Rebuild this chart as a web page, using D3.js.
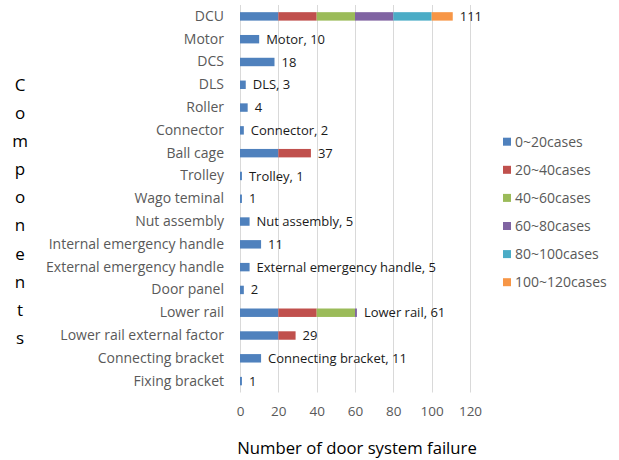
<!DOCTYPE html>
<html><head><meta charset="utf-8">
<script src="https://cdn.jsdelivr.net/npm/d3@7"></script>
<style>body{margin:0;background:#fff}svg{display:block}</style>
</head><body>
<script>
const categories = ["DCU","Motor","DCS","DLS","Roller","Connector","Ball cage","Trolley","Wago teminal","Nut assembly","Internal emergency handle","External emergency handle","Door panel","Lower rail","Lower rail external factor","Connecting bracket","Fixing bracket"];
const totals = [111,10,18,3,4,2,37,1,1,5,11,5,2,61,29,11,1];
const showName = [false,true,false,true,false,true,false,true,false,true,false,true,false,true,false,true,false];
const seriesNames = ["0~20cases","20~40cases","40~60cases","60~80cases","80~100cases","100~120cases"];
const s0 = [20,10,18,3,4,2,20,1,1,5,11,5,2,20,20,11,1];
const s1 = [20,0,0,0,0,0,17,0,0,0,0,0,0,20,9,0,0];
const s2 = [20,0,0,0,0,0,0,0,0,0,0,0,0,20,0,0,0];
const s3 = [20,0,0,0,0,0,0,0,0,0,0,0,0,1,0,0,0];
const s4 = [20,0,0,0,0,0,0,0,0,0,0,0,0,0,0,0,0];
const s5 = [11,0,0,0,0,0,0,0,0,0,0,0,0,0,0,0,0];
const xTicks = [0,20,40,60,80,100,120];
const colors = ["#4F81BD","#C0504D","#9BBB59","#8064A2","#4BACC6","#F79646"];
const yTitle = "Components";
const xTitle = "Number of door system failure";

const W = 619, H = 460;
const font = "'Open Sans', sans-serif";
const svg = d3.select("body").append("svg").attr("width", W).attr("height", H);
const x = d3.scaleLinear().domain([0,120]).range([240,470]);
const y = d3.scaleBand().domain(categories).range([5,392.5]).paddingInner(0.63).paddingOuter(0.315);

// gridlines
svg.append("g").selectAll("line").data(xTicks).join("line")
  .attr("x1", d=>Math.round(x(d))+0.5).attr("x2", d=>Math.round(x(d))+0.5).attr("y1", 5).attr("y2", 392.5)
  .attr("stroke", "#D9D9D9").attr("stroke-width", 1);

const rows = categories.map((c,i)=>({cat:c, s0:s0[i], s1:s1[i], s2:s2[i], s3:s3[i], s4:s4[i], s5:s5[i]}));
const stack = d3.stack().keys(["s0","s1","s2","s3","s4","s5"])(rows);
svg.append("g").selectAll("g").data(stack).join("g").attr("fill", (d,i)=>colors[i])
  .selectAll("rect").data(d=>d.filter(p=>p[1]-p[0]>0)).join("rect")
  .attr("x", d=>x(d[0])).attr("width", d=>x(d[1])-x(d[0]))
  .attr("y", d=>y(d.data.cat)).attr("height", y.bandwidth());

// data labels
svg.append("g").selectAll("text").data(categories).join("text")
  .attr("x", (c,i)=>x(totals[i])+7).attr("y", c=>y(c)+y.bandwidth()/2)
  .attr("dy","0.35em").attr("font-family", font).attr("font-size", 13).attr("fill","#1a1a1a")
  .text((c,i)=> showName[i] ? `${c}, ${totals[i]}` : `${totals[i]}`);

// y axis labels
const yAxis = d3.axisLeft(y).tickSize(0).tickPadding(16);
const gy = svg.append("g").attr("transform","translate(240,0)").call(yAxis);
gy.select(".domain").remove();
gy.selectAll("text").attr("font-family", font).attr("font-size", 14).attr("fill","#595959");

// x axis
const xAxis = d3.axisBottom(x).tickValues(xTicks).tickSize(0).tickPadding(14);
const gx = svg.append("g").attr("transform","translate(0,392.5)").call(xAxis);
gx.select(".domain").remove();
gx.selectAll("text").attr("font-family", font).attr("font-size", 13.5).attr("fill","#595959");

// x title
svg.append("text").attr("x", 357).attr("y", 448).attr("dy","0.35em").attr("text-anchor","middle")
  .attr("font-family", font).attr("font-size", 16.7).attr("fill","#000").text(xTitle);

// y title stacked letters
svg.append("g").selectAll("text").data(yTitle.split("")).join("text")
  .attr("x", 20).attr("y", (d,i)=>85 + i*28.1).attr("dy","0.35em").attr("text-anchor","middle")
  .attr("font-family", font).attr("font-size", 17).attr("fill","#000").text(d=>d);

// legend
const lg = svg.append("g").selectAll("g").data(seriesNames).join("g")
  .attr("transform", (d,i)=>`translate(503,${141.7 + i*28.1})`);
lg.append("rect").attr("x",0).attr("y",-4).attr("width",8).attr("height",8).attr("fill",(d,i)=>colors[i]);
lg.append("text").attr("x",12).attr("y",0).attr("dy","0.35em").attr("font-family", font)
  .attr("font-size",14).attr("fill","#595959").text(d=>d);
</script>
</body></html>
